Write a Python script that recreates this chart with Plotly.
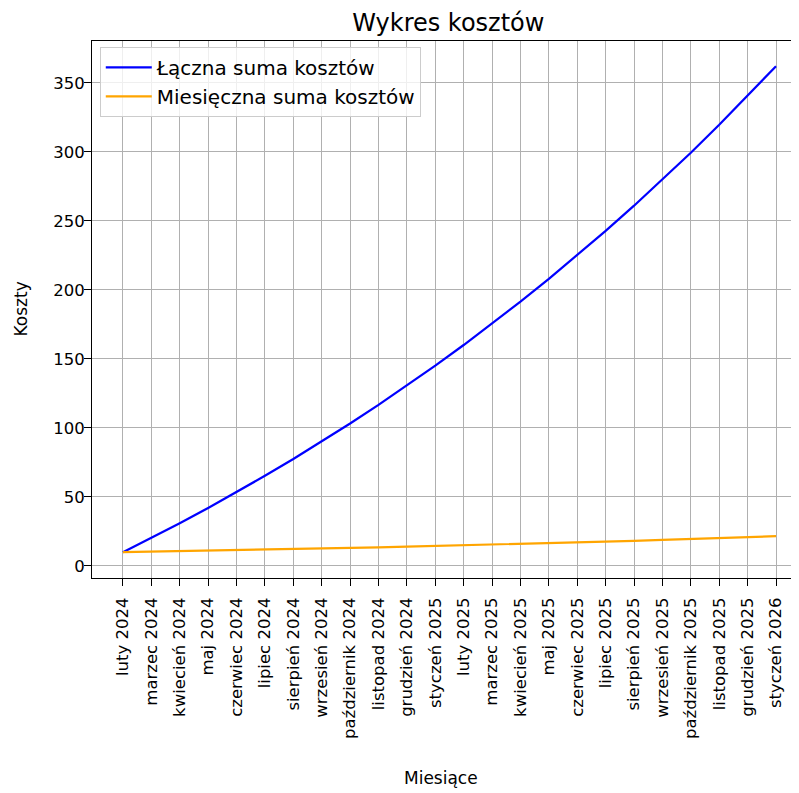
import plotly.graph_objects as go

miesiace = [
    "luty 2024", "marzec 2024", "kwiecień 2024", "maj 2024", "czerwiec 2024",
    "lipiec 2024", "sierpień 2024", "wrzesień 2024", "październik 2024",
    "listopad 2024", "grudzień 2024", "styczeń 2025", "luty 2025",
    "marzec 2025", "kwiecień 2025", "maj 2025", "czerwiec 2025",
    "lipiec 2025", "sierpień 2025", "wrzesień 2025", "październik 2025",
    "listopad 2025", "grudzień 2025", "styczeń 2026",
]

miesieczna = [
    10.00, 10.34, 10.69, 11.05, 11.43, 11.82, 12.22, 12.64, 13.07, 13.51,
    13.97, 14.45, 14.94, 15.45, 15.97, 16.52, 17.08, 17.66, 18.26, 18.88,
    19.52, 20.19, 20.87, 21.58,
]

laczna = [
    10.00, 20.34, 31.03, 42.08, 53.51, 65.33, 77.55, 90.19, 103.26, 116.77,
    130.74, 145.19, 160.13, 175.58, 191.55, 208.07, 225.15, 242.81, 261.07,
    279.95, 299.47, 319.66, 340.53, 362.11,
]

y_ticks = [0, 50, 100, 150, 200, 250, 300, 350]

x_idx = list(range(len(miesiace)))

# page body has an 8px margin, so the figure is a bit smaller than the window
W, H = 791, 785
L, T, B = 84, 33, 215
PW, PH = W - L, H - T - B

fig = go.Figure()
fig.add_trace(go.Scatter(x=x_idx, y=laczna, mode="lines",
                         name="Łączna suma kosztów",
                         line=dict(color="blue", width=2.2)))
fig.add_trace(go.Scatter(x=x_idx, y=miesieczna, mode="lines",
                         name="Miesięczna suma kosztów",
                         line=dict(color="orange", width=2.2)))

fig.update_layout(
    width=W, height=H,
    margin=dict(l=L, r=0, t=T, b=B, autoexpand=False),
    paper_bgcolor="white", plot_bgcolor="white",
    font=dict(family="DejaVu Sans", size=16.5, color="black"),
    title=dict(text="Wykres kosztów", x=0.504, xref="paper", xanchor="center",
               y=1 - 15 / H, yanchor="middle", font=dict(size=24)),
    legend=dict(x=0.011, y=0.989, xanchor="left", yanchor="top",
                bgcolor="rgba(255,255,255,0.8)", bordercolor="#cccccc",
                borderwidth=1, font=dict(size=20), itemwidth=46),
    showlegend=True,
    annotations=[
        dict(text="Miesiące", xref="paper", yref="paper", x=0.494,
             y=-(770 - (H - B)) / PH, xanchor="center",
             yanchor="middle", showarrow=False, font=dict(size=17)),
        dict(text="Koszty", xref="paper", yref="paper", x=-(L - 12) / PW,
             y=0.5, xanchor="center", yanchor="middle", textangle=-90,
             showarrow=False, font=dict(size=17)),
    ],
)

fig.update_xaxes(
    range=[-1.09, 23.81], automargin=False,
    tickmode="array", tickvals=x_idx, ticktext=miesiace, tickangle=-90,
    showgrid=True, gridcolor="#b0b0b0", gridwidth=1,
    showline=True, linecolor="black", linewidth=1, mirror=True,
    ticks="outside", ticklen=7, tickcolor="black", ticklabelstandoff=5,
    zeroline=False,
)
fig.update_yaxes(
    range=[-8.7, 380.4], automargin=False,
    tickmode="array", tickvals=y_ticks,
    showgrid=True, gridcolor="#b0b0b0", gridwidth=1,
    showline=True, linecolor="black", linewidth=1,
    ticks="outside", ticklen=7, tickcolor="black", ticklabelstandoff=-4,
    zeroline=False,
)

fig.write_html("out.html")
